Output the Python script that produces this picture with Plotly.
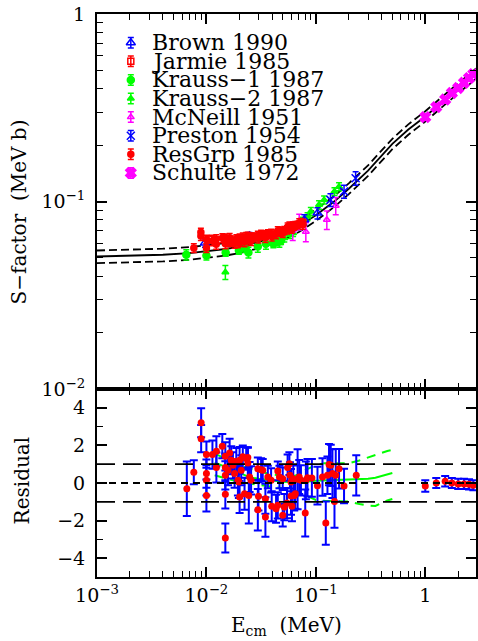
import plotly.graph_objects as go

# ---------------- data ----------------
fit_E = [0.001, 0.002, 0.004, 0.007, 0.01, 0.015, 0.02, 0.03, 0.05, 0.07, 0.1,
         0.15, 0.2, 0.3, 0.5, 0.7, 1.0, 1.5, 2.0, 2.5, 3.0]
fit_S = [0.0509, 0.0513, 0.0520, 0.0531, 0.0542, 0.0558, 0.0575, 0.0608, 0.0675, 0.0740, 0.0845,
         0.101, 0.117, 0.146, 0.203, 0.242, 0.284, 0.349, 0.402, 0.446, 0.488]
fit_S_hi = [0.0548, 0.0552, 0.0560, 0.0571, 0.0583, 0.0600, 0.0618, 0.0653, 0.0724, 0.0793, 0.0904,
            0.108, 0.125, 0.156, 0.216, 0.258, 0.303, 0.372, 0.428, 0.475, 0.520]
fit_S_lo = [0.0469, 0.0473, 0.0479, 0.0489, 0.0500, 0.0515, 0.0531, 0.0562, 0.0625, 0.0687, 0.0787,
            0.0944, 0.1095, 0.137, 0.190, 0.227, 0.267, 0.328, 0.378, 0.419, 0.459]

brown_E = [0.0097, 0.0247, 0.0786, 0.1035]
brown_S = [0.0601, 0.0654, 0.0800, 0.0867]
brown_err = [0.003, 0.003, 0.005, 0.006]

jarmie_E = [0.0112, 0.0145, 0.0195, 0.026, 0.035, 0.048, 0.063, 0.076]
jarmie_S = [0.0630, 0.0640, 0.0632, 0.0650, 0.0668, 0.0700, 0.0738, 0.0770]
jarmie_err = [0.003, 0.003, 0.003, 0.003, 0.003, 0.003, 0.0035, 0.0035]

krauss1_E = [0.00655, 0.0100, 0.0150, 0.0198, 0.0228, 0.0242, 0.0295, 0.0350, 0.0409, 0.0446, 0.0481]
krauss1_S = [0.0520, 0.0515, 0.0535, 0.0548, 0.0565, 0.0535, 0.0576, 0.0596, 0.0596, 0.0611, 0.0620]
krauss1_err = [0.0033, 0.0028, 0.0025, 0.0025, 0.003, 0.0035, 0.004, 0.004, 0.003, 0.003, 0.003]

krauss2_E = [0.0149, 0.0464, 0.0515, 0.058, 0.062, 0.068, 0.0755, 0.084, 0.090, 0.107, 0.119, 0.148, 0.163]
krauss2_S = [0.0420, 0.0600, 0.0639, 0.0665, 0.0680, 0.0737, 0.0783, 0.0832, 0.0885, 0.0960, 0.1020, 0.1130, 0.1200]
krauss2_err = [0.0036, 0.003, 0.003, 0.003, 0.003, 0.0035, 0.004, 0.004, 0.0045, 0.005, 0.005, 0.0055, 0.006]

mcneill_E = [0.0615, 0.0705, 0.0810, 0.126, 0.152]
mcneill_S = [0.0700, 0.0780, 0.0690, 0.0800, 0.0950]
mcneill_err = [0.008, 0.0075, 0.008, 0.009, 0.010]

preston_E = [0.136, 0.181, 0.231]
preston_S = [0.102, 0.113, 0.133]
preston_err = [0.008, 0.009, 0.011]

resgrp_E = [0.00767, 0.0089, 0.0089, 0.0100, 0.0100, 0.01135, 0.0123, 0.0123, 0.0140, 0.0149,
            0.0149, 0.0157, 0.0163, 0.0169, 0.0175, 0.0181, 0.0188, 0.0194, 0.0201, 0.0208,
            0.0215, 0.0223, 0.0231, 0.0239, 0.0248, 0.0256, 0.0270, 0.0295, 0.0299, 0.0316,
            0.0327, 0.0346, 0.0364, 0.0390, 0.0395, 0.0433, 0.0449, 0.0465, 0.0498, 0.0515,
            0.0545, 0.0552, 0.0573, 0.0580, 0.0605, 0.0622, 0.0649, 0.0681, 0.0705, 0.0731,
            0.0760]
resgrp_S = [0.0565, 0.0685, 0.0655, 0.0565, 0.0628, 0.0615, 0.0630, 0.0592, 0.0638, 0.0622,
            0.0595, 0.0608, 0.0640, 0.0620, 0.0610, 0.0598, 0.0630, 0.0602, 0.0635, 0.0612,
            0.0645, 0.0608, 0.0648, 0.0650, 0.0622, 0.0618, 0.0645, 0.0658, 0.0636, 0.0668,
            0.0662, 0.0640, 0.0672, 0.0676, 0.0650, 0.0668, 0.0698, 0.0688, 0.0678, 0.0700,
            0.0705, 0.0732, 0.0742, 0.0722, 0.0712, 0.0740, 0.0748, 0.0750, 0.0768, 0.0772,
            0.0752]
resgrp_err = [0.003, 0.0035, 0.0035, 0.003, 0.0032] + [0.0035] * 43 + [0.004] * 3

schulte_E = [1.00, 1.26, 1.52, 1.75, 2.00, 2.26, 2.51, 2.75]
schulte_S = [0.282, 0.319, 0.350, 0.379, 0.403, 0.430, 0.455, 0.478]
schulte_err = [0.010, 0.011, 0.012, 0.013, 0.014, 0.015, 0.016, 0.017]

# residuals
res_E = [0.00662, 0.00767, 0.00895, 0.00895, 0.0100, 0.0100, 0.0100, 0.0100, 0.01135, 0.01233,
         0.01233, 0.01397, 0.01489, 0.01489, 0.01489, 0.01489, 0.01489, 0.01575, 0.0163, 0.01687,
         0.01747, 0.0181, 0.01875, 0.0194, 0.0198, 0.0201, 0.0201, 0.0208, 0.0215, 0.0223,
         0.0231, 0.0239, 0.0239, 0.0244, 0.0248, 0.0256, 0.0295, 0.0295, 0.0299, 0.0316,
         0.0327, 0.0346, 0.0346, 0.0364, 0.0390, 0.0395, 0.0433, 0.0449, 0.0449, 0.0465,
         0.0498, 0.0498, 0.0515, 0.0545, 0.0552, 0.0573, 0.0580, 0.0593, 0.0593, 0.0605,
         0.0622, 0.0635, 0.0649, 0.0681, 0.0705, 0.0731, 0.0800, 0.0811, 0.0839, 0.0920,
         0.1035, 0.1150, 0.1233, 0.1277, 0.1320, 0.1368, 0.1418, 0.1480, 0.1520, 0.1630,
         0.1810, 0.2340, 1.00, 1.26, 1.52, 1.75, 2.00, 2.26, 2.51, 2.75]
res_R = [-0.30, 0.57, 3.20, 2.36, 1.51, 0.50, 0.14, -0.66, 1.51, 1.69,
         0.82, 1.96, 1.42, 0.82, 0.41, -0.60, -2.93, 0.68, 1.60, 1.21,
         0.94, 0.50, 1.16, 0.14, 0.05, -0.75, 1.21, 0.68, 1.39, -0.57,
         1.30, 1.35, 1.07, -0.66, 0.32, 0.14, 0.76, -1.42, -0.71, 0.71,
         0.68, -1.81, -0.84, 0.32, 0.14, -1.24, -1.37, 0.64, -1.19, 0.32,
         -1.72, 0.23, -1.28, -1.07, 0.82, 1.03, 0.41, 0.05, -0.69, -1.24,
         0.23, -0.66, -0.57, 0.20, 0.32, 0.14, -1.60, 0.14, 0.28, 0.27,
         -0.14, 0.32, -2.13, 0.41, 0.98, 0.94, 0.50, -0.98, 0.41, 0.76,
         -0.16, 0.41, -0.16, 0.00, 0.09, 0.00, -0.05, -0.05, -0.07, -0.12]
res_err = [1.45, 0.64, 0.77, 0.72, 0.70, 0.75, 0.80, 0.85, 0.75, 0.80,
           0.80, 0.65, 0.75, 0.75, 0.75, 0.75, 0.77, 0.80, 0.75, 0.75,
           0.70, 0.75, 0.70, 0.80, 0.85, 0.85, 0.70, 0.80, 0.60, 0.85,
           0.60, 0.55, 0.80, 1.50, 0.80, 0.75, 0.60, 1.10, 0.75, 0.60,
           0.60, 1.05, 0.80, 0.60, 0.65, 0.80, 0.75, 0.50, 0.70, 0.60,
           0.60, 0.60, 0.70, 0.80, 0.70, 0.60, 0.70, 0.70, 1.00, 0.80,
           0.70, 0.80, 0.80, 1.60, 0.90, 0.80, 1.25, 1.00, 1.00, 1.00,
           1.00, 1.00, 1.15, 1.00, 1.10, 1.10, 1.30, 1.40, 1.40, 1.05,
           0.92, 1.07, 0.30, 0.27, 0.28, 0.27, 0.27, 0.27, 0.27, 0.27]

band_E = [0.0119, 0.015, 0.02, 0.025, 0.03, 0.04, 0.05, 0.06, 0.07, 0.08,
          0.1, 0.12, 0.15, 0.2, 0.25, 0.3, 0.35, 0.4, 0.45, 0.5]
band_mid = [1.10, 0.85, 0.55, 0.30, 0.22, 0.12, 0.07, 0.05, 0.05, 0.07,
            0.12, 0.14, 0.16, 0.17, 0.18, 0.22, 0.28, 0.36, 0.44, 0.53]
band_up = [1.56, 1.30, 0.95, 0.77, 0.62, 0.45, 0.37, 0.33, 0.45, 0.68,
           0.95, 1.05, 1.05, 1.05, 1.20, 1.35, 1.50, 1.62, 1.70, 1.76]
band_lo = [0.41, 0.25, 0.05, -0.03, -0.10, -0.20, -0.28, -0.35, -0.50, -0.65,
           -0.90, -0.95, -0.95, -0.98, -1.12, -1.20, -1.22, -1.05, -0.93, -0.85]

ref_levels = [-1, 0, 1]

x_ticks = [0.001, 0.01, 0.1, 1]
x_ticktext = ["10<sup>\u22123</sup>", "10<sup>\u22122</sup>", "10<sup>\u22121</sup>", "1"]
y_ticks = [0.01, 0.1, 1]
y_ticktext = ["10<sup>\u22122</sup>", "10<sup>\u22121</sup>", "1"]

assert len(res_E) == len(res_R) == len(res_err)
assert len(resgrp_E) == len(resgrp_S) == len(resgrp_err)
assert len(krauss1_E) == len(krauss1_S) == len(krauss1_err)
assert len(krauss2_E) == len(krauss2_S) == len(krauss2_err)

# ---------------- style ----------------
BLUE, RED, GREEN, MAG = "#0000ff", "#ff0000", "#00ff00", "#ff00ff"
FONT = "DejaVu Serif"
W, H = 478, 641
ML, MR, MT, MB = 97, 0, 14, 64
PW, PH = W - ML - MR, H - MT - MB
TOP_H = 375
split = (PH - TOP_H) / PH

fig = go.Figure()

def err(arr, color, thick=1.5, width=3):
    return dict(type="data", array=arr, visible=True, color=color, thickness=thick, width=width)

# fit curves (top)
fig.add_trace(go.Scatter(x=fit_E, y=fit_S, mode="lines", line=dict(color="black", width=1.8),
                         xaxis="x2", yaxis="y2", showlegend=False, hoverinfo="skip"))
for arr in (fit_S_hi, fit_S_lo):
    fig.add_trace(go.Scatter(x=fit_E, y=arr, mode="lines",
                             line=dict(color="black", width=1.8, dash="8px,4px"),
                             xaxis="x2", yaxis="y2", showlegend=False, hoverinfo="skip"))

datasets = [
    ("Brown 1990", brown_E, brown_S, brown_err, BLUE, "triangle-up-open", 8),
    ("Jarmie 1985", jarmie_E, jarmie_S, jarmie_err, RED, "square-open", 6),
    ("Krauss\u22121 1987", krauss1_E, krauss1_S, krauss1_err, GREEN, "circle", 7),
    ("Krauss\u22122 1987", krauss2_E, krauss2_S, krauss2_err, GREEN, "triangle-up", 6),
    ("McNeill 1951", mcneill_E, mcneill_S, mcneill_err, MAG, "triangle-up-open", 6),
    ("Preston 1954", preston_E, preston_S, preston_err, BLUE, "x-thin-open", 8),
    ("ResGrp 1985", resgrp_E, resgrp_S, resgrp_err, RED, "circle", 6),
    ("Schulte 1972", schulte_E, schulte_S, schulte_err, MAG, "x", 9),
]
draw_order = [2, 3, 4, 0, 5, 1, 6, 7]
for i in draw_order:
    name, xs, ys, es, col, sym, sz = datasets[i]
    fig.add_trace(go.Scatter(
        x=xs, y=ys, mode="markers", name=name, xaxis="x2", yaxis="y2", showlegend=False,
        marker=dict(color=col, symbol=sym, size=sz, line=dict(color=col, width=1.5)),
        error_y=err(es, col)))

# legend (custom, drawn on an overlay axis of the top panel)
annotations = []
for i, (name, xs, ys, es, col, sym, sz) in enumerate(datasets):
    py = 42.7 + i * 18.6
    fig.add_trace(go.Scatter(
        x=[(131 - ML) / PW], y=[(MT + TOP_H - py) / TOP_H], mode="markers",
        xaxis="x3", yaxis="y3", showlegend=False, hoverinfo="skip",
        marker=dict(color=col, symbol=sym, size=sz, line=dict(color=col, width=1.5)),
        error_y=err([0.014], col)))
    annotations.append(dict(text=name, x=(150 - ML) / PW, y=(H - MB - py) / PH,
                            xref="paper", yref="paper", xanchor="left", yanchor="middle",
                            showarrow=False, font=dict(family=FONT, size=22, color="black")))

# residual panel
for lev, dash in zip(ref_levels, ["18px,8px", "7px,5px", "18px,8px"]):
    fig.add_shape(type="line", xref="x domain", yref="y", x0=0, x1=1, y0=lev, y1=lev,
                  line=dict(color="black", width=1.8, dash=dash))
fig.add_trace(go.Scatter(x=band_E, y=band_mid, mode="lines", line=dict(color=GREEN, width=2),
                         xaxis="x", yaxis="y", showlegend=False, hoverinfo="skip"))
for arr in (band_up, band_lo):
    fig.add_trace(go.Scatter(x=band_E, y=arr, mode="lines",
                             line=dict(color=GREEN, width=2, dash="9px,7px"),
                             xaxis="x", yaxis="y", showlegend=False, hoverinfo="skip"))
fig.add_trace(go.Scatter(x=res_E, y=res_R, mode="markers", xaxis="x", yaxis="y", showlegend=False,
                         marker=dict(color=RED, size=7),
                         error_y=err(res_err, BLUE, thick=2, width=4)))

# axis titles
annotations += [
    dict(text="S\u2212factor  (MeV b)", x=-78 / PW, y=(H - MB - 212) / PH, xref="paper", yref="paper",
         textangle=-90, showarrow=False, xanchor="center", yanchor="middle",
         font=dict(family=FONT, size=20, color="black")),
    dict(text="Residual", x=-75 / PW, y=(H - MB - 480) / PH, xref="paper", yref="paper",
         textangle=-90, showarrow=False, xanchor="center", yanchor="middle",
         font=dict(family=FONT, size=20, color="black")),
    dict(text="E<sub>cm</sub>  (MeV)", x=0.5, y=-(626 - (H - MB)) / PH, xref="paper", yref="paper",
         showarrow=False, xanchor="center", yanchor="middle",
         font=dict(family=FONT, size=20, color="black")),
]

xr = [-3, -3 + PW / 110.0]
common = dict(showline=True, linecolor="black", linewidth=2, mirror="allticks", ticks="inside",
              ticklen=10, tickwidth=1.5, tickcolor="black", showgrid=False, zeroline=False,
              tickfont=dict(family=FONT, size=19, color="black"))
logminor = dict(ticks="inside", ticklen=6, tickwidth=1.2, tickcolor="black", dtick="D1", showgrid=False)

fig.update_layout(
    width=W, height=H, margin=dict(l=ML, r=MR, t=MT, b=MB),
    paper_bgcolor="white", plot_bgcolor="white", showlegend=False,
    xaxis=dict(type="log", range=xr, domain=[0, 1], anchor="y", tickvals=x_ticks, ticktext=x_ticktext,
               minor=logminor, ticklabelstandoff=0, **common),
    yaxis=dict(range=[-5, 5], domain=[0, split], anchor="x", tickvals=[-4, -2, 0, 2, 4],
               minor=dict(ticks="inside", ticklen=6, tickwidth=1.2, tickcolor="black", dtick=1),
               ticklabelstandoff=6, **common),
    xaxis2=dict(type="log", range=xr, domain=[0, 1], anchor="y2", showticklabels=False,
                tickvals=x_ticks, minor=logminor, **common),
    yaxis2=dict(type="log", range=[-2, 0], domain=[split, 1], anchor="x2", tickvals=y_ticks,
                ticktext=y_ticktext, minor=logminor, ticklabelstandoff=6, **common),
    xaxis3=dict(range=[0, 1], anchor="y3", overlaying="x2", visible=False),
    yaxis3=dict(range=[0, 1], anchor="x3", overlaying="y2", visible=False),
    annotations=annotations,
)

fig.write_html("out.html")
